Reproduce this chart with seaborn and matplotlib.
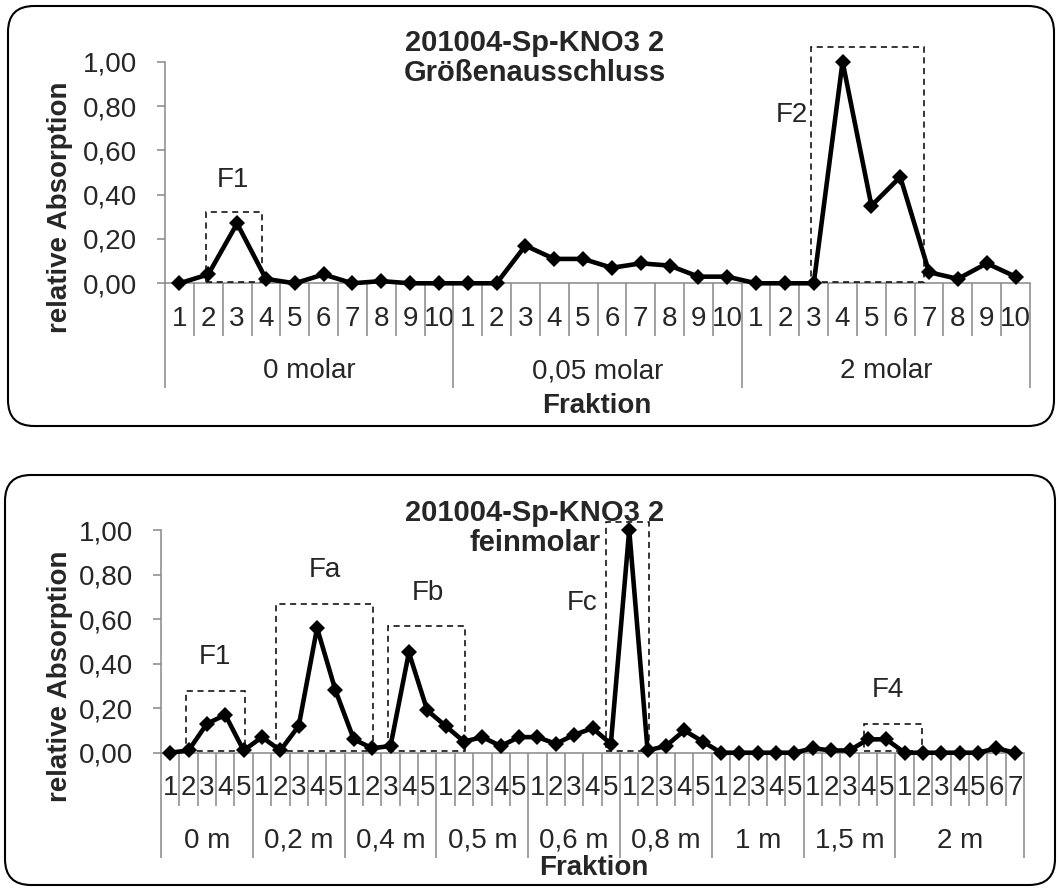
import numpy as np
import pandas as pd
import matplotlib
matplotlib.use('Agg')
import matplotlib.pyplot as plt
from matplotlib.patches import Rectangle, FancyBboxPatch
from matplotlib.transforms import IdentityTransform
import seaborn as sns

# --- Daten: Größenausschluss (oben) ---
top_title = '201004-Sp-KNO3 2\nGrößenausschluss'
top_groups = ['0 molar', '0,05 molar', '2 molar']
top_group_sizes = [10, 10, 10]
top_values = [0.00, 0.04, 0.27, 0.02, 0.00, 0.04, 0.00, 0.01, 0.00, 0.00,
              0.00, 0.00, 0.17, 0.11, 0.11, 0.07, 0.09, 0.08, 0.03, 0.03,
              0.00, 0.00, 0.00, 1.00, 0.35, 0.48, 0.05, 0.02, 0.09, 0.03]
# Fraktionsboxen: Name, x von, x bis, Hoehe
top_boxes = [('F1', 0.92, 2.86, 0.323),
             ('F2', 21.9, 25.83, 1.068)]
top_box_labels = [('F1', 1.86, 0.466, 'center'),
                  ('F2', 21.8, 0.76, 'right')]

# --- Daten: feinmolar (unten) ---
bot_title = '201004-Sp-KNO3 2\nfeinmolar'
bot_groups = ['0 m', '0,2 m', '0,4 m', '0,5 m', '0,6 m', '0,8 m', '1 m', '1,5 m', '2 m']
bot_group_sizes = [5, 5, 5, 5, 5, 5, 5, 5, 7]
bot_values = [0.00, 0.01, 0.13, 0.17, 0.01,
              0.07, 0.01, 0.12, 0.56, 0.28,
              0.06, 0.02, 0.03, 0.45, 0.19,
              0.12, 0.05, 0.07, 0.03, 0.07,
              0.07, 0.04, 0.08, 0.11, 0.04,
              1.00, 0.01, 0.03, 0.10, 0.05,
              0.00, 0.00, 0.00, 0.00, 0.00,
              0.02, 0.01, 0.01, 0.06, 0.06,
              0.00, 0.00, 0.00, 0.00, 0.00, 0.02, 0.00]
bot_boxes = [('F1', 0.85, 4.08, 0.278),
             ('Fa', 5.79, 11.06, 0.668),
             ('Fb', 11.86, 16.07, 0.57),
             ('Fc', 23.74, 26.1, 1.035),
             ('F4', 37.77, 40.97, 0.129)]
bot_box_labels = [('F1', 2.44, 0.43, 'center'),
                  ('Fa', 8.43, 0.82, 'center'),
                  ('Fb', 14.06, 0.716, 'center'),
                  ('Fc', 23.26, 0.67, 'right'),
                  ('F4', 39.11, 0.28, 'center')]

yticks = [0.0, 0.2, 0.4, 0.6, 0.8, 1.0]

sns.set_style('white')
plt.rcParams['font.family'] = ['Liberation Sans', 'DejaVu Sans']
FS = 20
GRAY = '#878787'

W, H = 1060, 890
fig = plt.figure(figsize=(W / 100, H / 100), dpi=100)


def px_axes(left, top, right, bottom):
    return fig.add_axes([left / W, 1 - bottom / H, (right - left) / W, (bottom - top) / H])


def draw_chart(ax, values, groups, sizes, boxes, box_labels):
    n = len(values)
    df = pd.DataFrame({'pos': np.arange(n), 'val': values})
    sns.lineplot(data=df, x='pos', y='val', ax=ax, color='black', linewidth=3.3,
                 marker='D', markersize=8.5, markeredgewidth=0, clip_on=False, zorder=5)
    ax.set_xlim(-0.5, n - 0.5)
    ax.set_ylim(0, 1)
    ax.set_xlabel('')
    ax.set_ylabel('')
    for s in ['top', 'right']:
        ax.spines[s].set_visible(False)
    for s in ['left', 'bottom']:
        ax.spines[s].set_color(GRAY)
        ax.spines[s].set_linewidth(1.1)
    ax.set_yticks(yticks, [f'{v:.2f}'.replace('.', ',') for v in yticks])
    ax.tick_params(axis='y', direction='out', length=5.8, width=1.1, color=GRAY,
                   labelsize=FS, pad=14, left=True)
    # Fraktionsnummern unter jeder Kategorie
    labels = [str(i) for s in sizes for i in range(1, s + 1)]
    ax.set_xticks(np.arange(n), labels)
    ax.tick_params(axis='x', length=0, labelsize=FS, pad=16)

    trans = ax.get_xaxis_transform()
    ax_h = ax.get_position().height * H
    short = 53 / ax_h
    long = 105 / ax_h
    starts = np.cumsum([0] + sizes)
    for b in range(n + 1):
        depth = long if b in starts else short
        ax.plot([b - 0.5, b - 0.5], [0, -depth], transform=trans, color=GRAY,
                lw=1.1, clip_on=False, solid_capstyle='butt')
    for g, s0, s in zip(groups, starts[:-1], sizes):
        ax.text(s0 + s / 2 - 0.5, -88 / ax_h, g, transform=trans, ha='center',
                va='center', fontsize=FS)

    for name, x0, x1, top in boxes:
        ax.add_patch(Rectangle((x0, 0.006), x1 - x0, top - 0.006, fill=False,
                               ec='black', lw=1.1, ls=(0, (4, 3)), clip_on=False, zorder=3))
    for name, x, y, ha in box_labels:
        ax.text(x, y, name, ha=ha, va='center', fontsize=FS)


ax1 = px_axes(165, 61.7, 1030, 283.3)
draw_chart(ax1, top_values, top_groups, top_group_sizes, top_boxes, top_box_labels)
ax2 = px_axes(161, 530, 1024, 752.7)
draw_chart(ax2, bot_values, bot_groups, bot_group_sizes, bot_boxes, bot_box_labels)

# Titel und Achsentitel
for title, y in [(top_title, 58), (bot_title, 528)]:
    fig.text(535 / W, 1 - y / H, title, ha='center', va='center', fontsize=21,
             fontweight='bold', linespacing=1.1)
for y in [207, 676]:
    fig.text(60 / W, 1 - y / H, 'relative Absorption', rotation=90, ha='center',
             va='center', fontsize=FS, fontweight='bold')
for x, y in [(597, 406), (594, 868)]:
    fig.text(x / W, 1 - y / H, 'Fraktion', ha='center', va='center', fontsize=FS,
             fontweight='bold')

# abgerundete Rahmen
for x0, y0, x1, y1 in [(8, 6, 1054, 426), (5, 475, 1055, 885)]:
    fig.add_artist(FancyBboxPatch((x0, H - y1), x1 - x0, y1 - y0,
                                  boxstyle='round,pad=0,rounding_size=26',
                                  fill=False, ec='black', lw=1.5,
                                  transform=IdentityTransform()))

fig.savefig('out.png', dpi=100)
